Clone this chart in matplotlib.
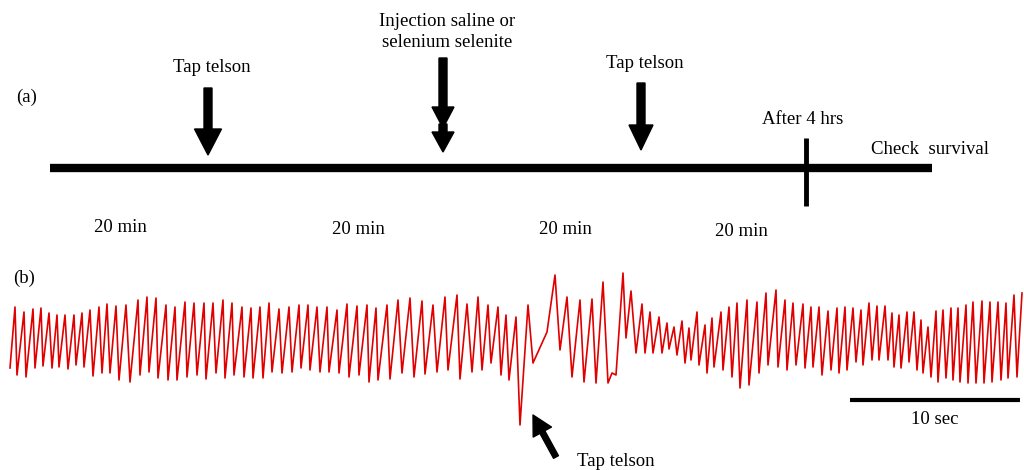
import numpy as np
import matplotlib.pyplot as plt

plt.rcParams['font.family'] = ['Liberation Serif', 'DejaVu Serif']

# (a) protocol timeline, drawn on a 1024 x 470 canvas
timeline_start, timeline_end, timeline_y = 50, 932, 168
event_x = [208, 443, 641]
event_labels = ['Tap telson', 'Injection saline or\nselenium selenite', 'Tap telson']
event_label_y = [68, 32, 64]
mark_x = 806
mark_label = 'After 4 hrs'
end_label = 'Check  survival'
interval_x = [120, 358, 565, 741]
interval_y = [228, 230, 229, 232]
interval_labels = ['20 min', '20 min', '20 min', '20 min']

# (b) heart-beat recording: turning points of the trace (samples at 17 Hz, arbitrary units)
sample_rate = 17
trace_t = [10, 15, 17, 24, 26, 33, 35, 41, 43, 49, 52, 57, 59, 65, 68, 74, 76, 82, 84,
           90, 93, 99, 102, 107, 110, 116, 119, 126, 130, 138, 140, 147, 149, 156, 158,
           166, 168, 175, 177, 185, 187, 194, 197, 204, 206, 213, 216, 223, 225, 232, 234,
           242, 244, 251, 253, 260, 263, 269, 272, 279, 282, 289, 292, 299, 301, 308, 310,
           317, 320, 327, 329, 337, 339, 347, 349, 357, 359, 367, 369, 376, 378, 387, 390,
           398, 402, 410, 414, 422, 425, 433, 437, 445, 448, 457, 460, 467, 472, 478, 482,
           488, 491, 498, 501, 506, 509, 516, 520, 528, 533, 547, 555, 560, 567, 572, 580,
           584, 592, 596, 603, 608, 612, 616, 623, 626, 631, 636, 642, 645, 650, 653, 659,
           662, 667, 669, 674, 677, 682, 685, 689, 691, 697, 699, 705, 707, 712, 714, 721,
           723, 729, 732, 737, 740, 747, 749, 757, 759, 766, 768, 776, 778, 785, 787, 793,
           796, 803, 805, 811, 813, 819, 822, 828, 831, 837, 839, 845, 847, 853, 856, 861,
           863, 869, 872, 877, 879, 885, 888, 892, 894, 899, 901, 907, 909, 914, 917, 921,
           923, 928, 931, 936, 938, 943, 946, 951, 953, 958, 960, 966, 968, 973, 976, 982,
           984, 990, 992, 998, 1001, 1006, 1008, 1014, 1017, 1022]
trace_v = [32, 93, 25, 88, 23, 91, 32, 92, 34, 87, 32, 85, 33, 85, 31, 85, 35, 87, 33,
           90, 24, 93, 27, 96, 27, 94, 20, 95, 18, 100, 25, 103, 28, 102, 22,
           95, 20, 93, 20, 98, 23, 97, 25, 97, 21, 97, 27, 100, 22, 97, 25,
           93, 23, 92, 22, 93, 22, 97, 28, 91, 27, 93, 28, 95, 32, 95, 30,
           93, 28, 93, 28, 90, 27, 96, 23, 94, 25, 95, 18, 92, 20, 95, 21,
           100, 27, 102, 23, 99, 26, 95, 28, 103, 30, 105, 21, 96, 28, 103, 30,
           95, 37, 93, 25, 85, 20, 83, -25, 95, 37, 68, 125, 50, 103, 23, 100,
           18, 101, 17, 118, 17, 27, 25, 127, 62, 109, 47, 96, 47, 88, 47, 83,
           47, 77, 51, 73, 45, 79, 37, 72, 40, 88, 35, 75, 27, 82, 33, 88,
           30, 93, 23, 97, 12, 100, 15, 98, 27, 107, 35, 110, 33, 100, 30, 97,
           35, 96, 32, 93, 33, 93, 25, 89, 30, 92, 27, 93, 30, 92, 38, 90,
           35, 97, 40, 94, 40, 94, 40, 87, 33, 85, 32, 88, 38, 88, 30, 80,
           27, 73, 23, 89, 18, 90, 22, 92, 20, 92, 18, 95, 17, 98, 17, 99,
           17, 98, 18, 98, 20, 97, 22, 105, 23, 107]
scale_bar_start = 850
scale_bar_seconds = 10

fs = 13.5

fig = plt.figure(figsize=(10.24, 4.70), dpi=100)

# --- panel (a) ---
ax = fig.add_axes([0, 0, 1, 1])
ax.set_xlim(0, 1024)
ax.set_ylim(470, 0)
ax.axis('off')

ax.plot([timeline_start, timeline_end], [timeline_y, timeline_y], color='black',
        lw=6, solid_capstyle='butt')
ax.plot([mark_x, mark_x], [138, 206], color='black', lw=3.5, solid_capstyle='butt')

# event arrows
ax.arrow(event_x[0], 88, 0, 67, width=8, head_width=27, head_length=26,
         length_includes_head=True, color='black')
ax.arrow(event_x[1], 58, 0, 70, width=8, head_width=22, head_length=21,
         length_includes_head=True, color='black')
ax.arrow(event_x[1], 124, 0, 28, width=8, head_width=22, head_length=20,
         length_includes_head=True, color='black')
ax.arrow(event_x[2], 83, 0, 67, width=8, head_width=24, head_length=25,
         length_includes_head=True, color='black')

for x, y, s in zip(event_x, event_label_y, event_labels):
    ax.text(x + 4, y, s, ha='center', va='center', fontsize=fs, linespacing=1.3)
ax.text(mark_x - 3, 120, mark_label, ha='center', va='center', fontsize=fs)
ax.text(930, 150, end_label, ha='center', va='center', fontsize=fs)
for x, y, s in zip(interval_x, interval_y, interval_labels):
    ax.text(x, y, s, ha='center', va='center', fontsize=fs)

ax.text(27, 97, '(a)', ha='center', va='center', fontsize=fs)
ax.text(24, 278, '(b)', ha='center', va='center', fontsize=fs)

# --- panel (b) ---
bx = fig.add_axes([0, 0, 1, 220 / 470])
bx.set_xlim(0, 1024)
bx.set_ylim(-70, 150)
bx.axis('off')

bx.plot(trace_t, trace_v, color='#e00000', lw=1.2, solid_joinstyle='round')

bar_len = scale_bar_seconds * sample_rate
bx.plot([scale_bar_start, scale_bar_start + bar_len], [0, 0], color='black', lw=3,
        solid_capstyle='butt')
bx.text(scale_bar_start + bar_len / 2, -20, f'{scale_bar_seconds} sec', ha='center',
        va='center', fontsize=fs)

dip = int(np.argmin(trace_v))
bx.annotate('', xy=(trace_t[dip] + 13, trace_v[dip] + 10),
            xytext=(trace_t[dip] + 36, trace_v[dip] - 32),
            arrowprops=dict(width=4, headwidth=15, headlength=14, color='black'))
bx.text(trace_t[dip] + 96, trace_v[dip] - 37, 'Tap telson', ha='center', va='center',
        fontsize=fs, clip_on=False)

fig.savefig('out.png', dpi=100)
